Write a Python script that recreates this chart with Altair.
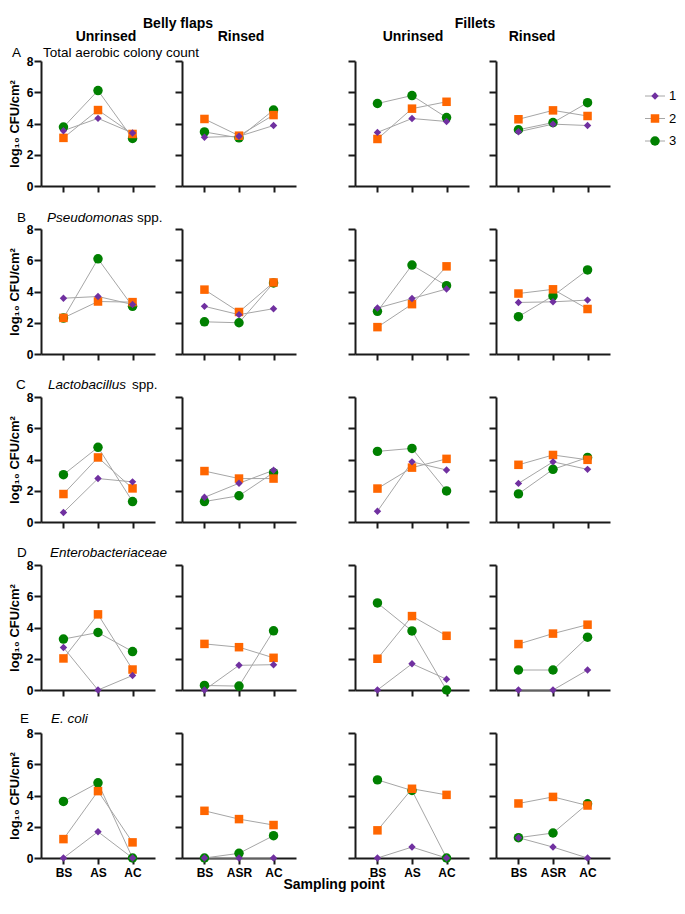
import altair as alt
import pandas as pd

# ---------------- data ----------------
SAMPLES_UNRINSED = ["BS", "AS", "AC"]
SAMPLES_RINSED = ["BS", "ASR", "AC"]
SERIES = ["1", "2", "3"]
COLORS = ["#7030A0", "#FF6600", "#008000"]
SHAPES = ["diamond", "square", "circle"]

ROW_LETTERS = ["A", "B", "C", "D", "E"]
ROW_NAMES = ["Total aerobic colony count", "Pseudomonas", "Lactobacillus",
             "Enterobacteriaceae", "E. coli"]
ROW_ITALIC = [False, True, True, True, True]
ROW_SUFFIX = ["", "spp.", "spp.", "", ""]

GROUPS = ["Belly flaps", "Fillets"]
TREATMENTS = ["Unrinsed", "Rinsed"]
Y_TITLE = "log₁₀ CFU/cm²"
X_TITLE = "Sampling point"

# log10 CFU/cm2 per series, ordered by sampling point
A_BU = {"1": [3.54, 4.33, 3.39], "2": [3.08, 4.86, 3.33], "3": [3.77, 6.11, 3.04]}
A_BR = {"1": [3.12, 3.18, 3.87], "2": [4.29, 3.22, 4.54], "3": [3.46, 3.08, 4.86]}
A_FU = {"1": [3.43, 4.32, 4.13], "2": [3.01, 4.95, 5.39], "3": [5.28, 5.79, 4.38]}
A_FR = {"1": [3.47, 3.96, 3.87], "2": [4.27, 4.84, 4.48], "3": [3.60, 4.06, 5.33]}

B_BU = {"1": [3.57, 3.68, 3.17], "2": [2.31, 3.36, 3.32], "3": [2.30, 6.09, 3.05]}
B_BR = {"1": [3.05, 2.52, 2.90], "2": [4.12, 2.69, 4.58], "3": [2.06, 2.00, 4.55]}
B_FU = {"1": [2.94, 3.55, 4.16], "2": [1.72, 3.19, 5.61], "3": [2.73, 5.69, 4.37]}
B_FR = {"1": [3.30, 3.34, 3.45], "2": [3.87, 4.14, 2.88], "3": [2.39, 3.72, 5.38]}

C_BU = {"1": [0.61, 2.78, 2.57], "2": [1.79, 4.13, 2.15], "3": [3.03, 4.78, 1.31]}
C_BR = {"1": [1.58, 2.48, 3.31], "2": [3.26, 2.78, 2.78], "3": [1.31, 1.68, 3.16]}
C_FU = {"1": [0.69, 3.85, 3.33], "2": [2.14, 3.48, 4.04], "3": [4.52, 4.71, 1.99]}
C_FR = {"1": [2.47, 3.85, 3.37], "2": [3.66, 4.29, 3.98], "3": [1.80, 3.37, 4.13]}

D_BU = {"1": [2.72, 0.00, 0.93], "2": [2.02, 4.84, 1.31], "3": [3.26, 3.68, 2.46]}
D_BR = {"1": [0.00, 1.58, 1.62], "2": [2.95, 2.74, 2.06], "3": [0.29, 0.25, 3.79]}
D_FU = {"1": [0.00, 1.68, 0.69], "2": [2.00, 4.73, 3.47], "3": [5.57, 3.78, 0.00]}
D_FR = {"1": [0.00, 0.00, 1.28], "2": [2.94, 3.61, 4.18], "3": [1.28, 1.28, 3.38]}

E_BU = {"1": [0.00, 1.68, 0.00], "2": [1.21, 4.28, 1.00], "3": [3.62, 4.81, 0.00]}
E_BR = {"1": [0.00, 0.00, 0.00], "2": [3.02, 2.49, 2.11], "3": [0.00, 0.30, 1.43]}
E_FU = {"1": [0.00, 0.70, 0.00], "2": [1.77, 4.43, 4.04], "3": [5.00, 4.32, 0.00]}
E_FR = {"1": [1.30, 0.70, 0.00], "2": [3.49, 3.91, 3.36], "3": [1.30, 1.60, 3.47]}

ROWS = [
    [A_BU, A_BR, A_FU, A_FR],
    [B_BU, B_BR, B_FU, B_FR],
    [C_BU, C_BR, C_FU, C_FR],
    [D_BU, D_BR, D_FU, D_FR],
    [E_BU, E_BR, E_FU, E_FR],
]

# ---------------- style / layout ----------------
FONT = "Liberation Sans"
LINE_GRAY = "#A6A6A6"
AXIS_COLOR = "#1a1a1a"
W, H = 114, 125
SIZES = [55, 90, 75]

# annotation placement (relative to the panel's plot area)
LETTER_X = [-29, -24, -25, -24, -21]
NAME_X = [2, 6, 7, 9, 10]
SUFFIX_X = [0, 96, 91, 0, 0]
LABEL_Y = [-4, -7, -8, -8, -10]
GROUP_Y = -33
TREAT_Y = -20
XTITLE_Y = 156


def text_layer(txt, x, y, size=14, weight="bold", style="normal", align="center"):
    return alt.Chart(pd.DataFrame({"t": [txt]})).mark_text(
        align=align, baseline="alphabetic", fontSize=size, fontWeight=weight,
        fontStyle=style, font=FONT, color="black"
    ).encode(x=alt.value(x), y=alt.value(y), text="t:N")


def panel(values, r, c):
    samples = SAMPLES_UNRINSED if c % 2 == 0 else SAMPLES_RINSED
    recs = []
    for si, s in enumerate(SERIES):
        for j, samp in enumerate(samples):
            recs.append({"series": s, "sample": samp, "idx": j,
                         "value": values[s][j], "z": len(SERIES) - si})
    df = pd.DataFrame(recs)
    x = alt.X("sample:N",
              scale=alt.Scale(type="point", domain=samples, padding=0.65),
              axis=alt.Axis(labels=(r == 4), title=None, labelAngle=0))
    if c == 0:
        yaxis = alt.Axis(values=[0, 2, 4, 6, 8], title=Y_TITLE)
    else:
        yaxis = alt.Axis(values=[0, 2, 4, 6, 8], labels=False, title=None)
    y = alt.Y("value:Q", scale=alt.Scale(domain=[0, 8], nice=False), axis=yaxis)
    base = alt.Chart(df)
    lines = base.mark_line(color=LINE_GRAY, strokeWidth=1).encode(
        x=x, y=y, detail="series:N", order="idx:Q")
    pts = base.mark_point(filled=True, opacity=1).encode(
        x=x, y=y,
        color=alt.Color("series:N", scale=alt.Scale(domain=SERIES, range=COLORS), legend=None),
        shape=alt.Shape("series:N", scale=alt.Scale(domain=SERIES, range=SHAPES), legend=None),
        size=alt.Size("series:N", scale=alt.Scale(domain=SERIES, range=SIZES), legend=None),
        order=alt.Order("z:Q"),
    )
    layers = [lines, pts]
    if c == 0:
        layers.append(text_layer(ROW_LETTERS[r], LETTER_X[r], LABEL_Y[r], size=13.5,
                                 weight="normal", align="left"))
        layers.append(text_layer(ROW_NAMES[r], NAME_X[r], LABEL_Y[r], size=13.5,
                                 weight="normal",
                                 style="italic" if ROW_ITALIC[r] else "normal",
                                 align="left"))
        if ROW_SUFFIX[r]:
            layers.append(text_layer(ROW_SUFFIX[r], SUFFIX_X[r], LABEL_Y[r], size=13.5,
                                     weight="normal", align="left"))
    if r == 0:
        if c == 0:
            layers.append(text_layer(GROUPS[0], 137, GROUP_Y))
            layers.append(text_layer(TREATMENTS[0], 65, TREAT_Y))
        elif c == 1:
            layers.append(text_layer(TREATMENTS[1], 59, TREAT_Y))
        elif c == 2:
            layers.append(text_layer(GROUPS[1], 120, GROUP_Y))
            layers.append(text_layer(TREATMENTS[0], 58, TREAT_Y))
        else:
            layers.append(text_layer(TREATMENTS[1], 36, TREAT_Y))
    if r == 4 and c == 1:
        layers.append(text_layer(X_TITLE, 152, XTITLE_Y))
    return alt.layer(*layers).properties(width=W, height=H)


def spacer(w=5):
    return alt.Chart(pd.DataFrame({"v": [0]})).mark_point(opacity=0, size=1).encode(
        x=alt.value(0), y=alt.value(1)).properties(width=w, height=H)


def legend_chart():
    df = pd.DataFrame({"series": SERIES})
    ysc = alt.Scale(type="point", domain=SERIES, range=[35, 80], padding=0)
    y = alt.Y("series:N", scale=ysc, axis=None)
    base = alt.Chart(df)
    rule = base.mark_rule(color=LINE_GRAY, strokeWidth=1).encode(
        x=alt.value(8), x2=alt.value(28), y=y)
    pts = base.mark_point(filled=True, opacity=1).encode(
        x=alt.value(18), y=y,
        color=alt.Color("series:N", scale=alt.Scale(domain=SERIES, range=COLORS), legend=None),
        shape=alt.Shape("series:N", scale=alt.Scale(domain=SERIES, range=SHAPES), legend=None),
        size=alt.Size("series:N", scale=alt.Scale(domain=SERIES, range=SIZES), legend=None),
    )
    txt = base.mark_text(align="left", baseline="middle", fontSize=13, font=FONT,
                         color="black").encode(x=alt.value(32), y=y, text="series:N")
    return alt.layer(rule, pts, txt).properties(width=30, height=H)


cells = []
for r, row in enumerate(ROWS):
    cells.append(panel(row[0], r, 0))
    cells.append(panel(row[1], r, 1))
    cells.append(spacer())
    cells.append(panel(row[2], r, 2))
    cells.append(panel(row[3], r, 3))
    cells.append(legend_chart() if r == 0 else spacer())

chart = alt.concat(
    *cells, columns=6, spacing={"row": 43, "column": 27},
    bounds="flush", align="each"
).properties(
    padding={"top": 9, "left": 0, "right": 0, "bottom": 0}
).configure_view(strokeWidth=0).configure_axis(
    domainColor=AXIS_COLOR, domainWidth=2, tickColor=AXIS_COLOR, tickWidth=2,
    tickSize=7, grid=False, labelFont=FONT, labelFontSize=12,
    labelFontWeight="bold", labelColor="black", titleFont=FONT,
    titleFontSize=13, titleFontWeight="bold", titleColor="black"
).configure_axisY(labelPadding=1, titlePadding=5).configure_axisX(
    labelPadding=3, tickSize=6)

chart.save("out.html", embed_options={"renderer": "svg", "actions": False})
